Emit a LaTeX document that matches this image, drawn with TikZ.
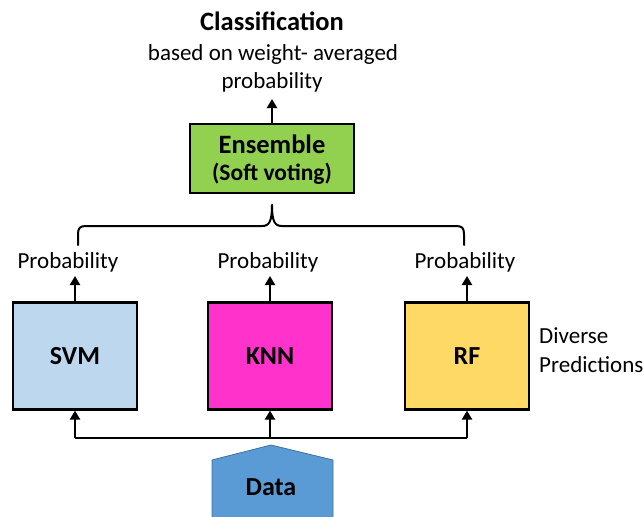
\documentclass[tikz,border=0pt]{standalone}
\usepackage{fontspec}
\setmainfont{Carlito}
\usetikzlibrary{arrows.meta}
\definecolor{svmc}{HTML}{BDD7EE}
\definecolor{knnc}{HTML}{FF33CC}
\definecolor{rfc}{HTML}{FFD966}
\definecolor{ensc}{HTML}{92D050}
\definecolor{datac}{HTML}{5B9BD5}
\definecolor{datab}{HTML}{41719C}
\tikzset{
  box/.style={draw=black, line width=2.2pt, minimum width=124pt, minimum height=107pt, font=\fontsize{26}{30}\selectfont\bfseries, inner sep=0pt},
  lab/.style={font=\fontsize{23}{27}\selectfont, inner sep=0pt, anchor=base},
  arr/.style={line width=2.7pt, -{Triangle[length=9pt,width=10pt]}},
  ln/.style={line width=2pt},
}
\begin{document}
\begin{tikzpicture}[x=1pt,y=-1pt]
\useasboundingbox (0,0) rectangle (643,517);
% titles
\node[lab, font=\fontsize{26.5}{30}\selectfont\bfseries] (title) at (272,30) {Classification};
\node[lab] (sub1) at (273,60) {based on weight- averaged};
\node[lab] (sub2) at (272,88) {probability};
% ensemble
\node[draw=black, line width=2.2pt, fill=ensc, minimum width=164pt, minimum height=69pt, inner sep=0pt] (ens) at (272,158.5) {};
\node[font=\fontsize{26.5}{30}\selectfont\bfseries, inner sep=0pt, anchor=base] (enst) at (272,153) {Ensemble};
\node[font=\fontsize{23.5}{27}\selectfont\bfseries, inner sep=0pt, anchor=base] (enss) at (272,180) {(Soft voting)};
\coordinate (clsin) at (272,99);
\draw[arr] (ens.north) -- (clsin);
% brace
\coordinate (btip) at (272,205);
\coordinate (bl) at (78,245);
\coordinate (br) at (464,245);
\draw[ln, line cap=round] (bl) -- (78,234) .. controls (78,228) and (80,226) .. (86,226) -- (262,226) .. controls (269,226) and (272,222) .. (btip);
\draw[ln, line cap=round] (br) -- (464,234) .. controls (464,228) and (462,226) .. (456,226) -- (282,226) .. controls (275,226) and (272,222) .. (btip);
% boxes
\node[box, fill=svmc] (svm) at (75,356) {SVM};
\node[box, fill=knnc] (knn) at (270,356) {KNN};
\node[box, fill=rfc] (rf) at (467,356) {RF};
% probability labels
\node[lab] (p1) at (68,268) {Probability};
\node[lab] (p2) at (268,268) {Probability};
\node[lab] (p3) at (465,268) {Probability};
\coordinate (pa1) at (svm.north |- 0,276);
\coordinate (pa2) at (knn.north |- 0,276);
\coordinate (pa3) at (rf.north |- 0,276);
\draw[arr] (svm.north) -- (pa1);
\draw[arr] (knn.north) -- (pa2);
\draw[arr] (rf.north) -- (pa3);
% diverse
\node[lab, anchor=base west] (div1) at (539,343) {Diverse};
\node[lab, anchor=base west] (div2) at (539,372) {Predictions};
% bus
\coordinate (busl) at (svm.south |- 0,438);
\coordinate (busm) at (knn.south |- 0,438);
\coordinate (busr) at (rf.south |- 0,438);
\draw[ln] (busl) -- (busr);
\draw[arr] (busl) -- (svm.south);
\draw[arr] (busm) -- (knn.south);
\draw[arr] (busr) -- (rf.south);
% data
\coordinate (dtop) at (271,445);
\fill[datac] (212,520) -- (212,460) -- (dtop) -- (333,460) -- (333,520) -- cycle;
\draw[datab, line width=0.8pt] (212,520) -- (212,460) -- (dtop) -- (333,460) -- (333,520);
\node[font=\fontsize{26}{30}\selectfont\bfseries, inner sep=0pt, anchor=base] (data) at (271,495) {Data};
\end{tikzpicture}
\end{document}
